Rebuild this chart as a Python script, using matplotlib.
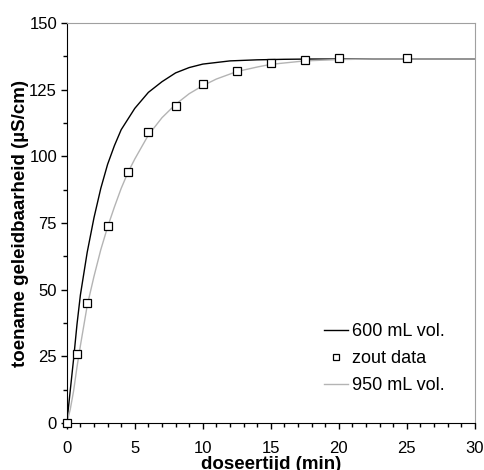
import matplotlib
matplotlib.use("Agg")
import matplotlib.pyplot as plt
from matplotlib.ticker import MultipleLocator

plt.rcParams["font.family"] = ["Liberation Sans", "DejaVu Sans"]

# measured salt data
t_data = [0, 0.75, 1.5, 3, 4.5, 6, 8, 10, 12.5, 15, 17.5, 20, 25]
g_data = [0, 26, 45, 74, 94, 109, 119, 127, 132, 135, 136, 137, 137]

# model curve, 600 mL volume
t_600 = [0, 0.25, 0.5, 0.75, 1, 1.5, 2, 2.5, 3, 3.5, 4, 5, 6, 7, 8, 9, 10, 12, 14, 16, 18, 20, 25, 30]
g_600 = [0, 12, 24, 37, 48, 64, 77, 88, 97, 104, 110, 118, 124, 128, 131.3, 133.3, 134.6, 135.8, 136.2, 136.4, 136.5, 136.5, 136.5, 136.5]

# model curve, 950 mL volume
t_950 = [0, 0.25, 0.5, 0.75, 1, 1.5, 2, 2.5, 3, 3.5, 4, 4.5, 5, 6, 7, 8, 9, 10, 11, 12.5, 14, 15, 17.5, 20, 22.5, 25, 30]
g_950 = [0, 5, 12, 21, 29, 44, 55, 65, 73.5, 81, 88, 94, 99, 108, 114.5, 119.5, 123.5, 126.5, 129, 131.8, 133.5, 134.5, 135.8, 136.3, 136.5, 136.5, 136.5]

fig = plt.figure(figsize=(4.84, 4.70), dpi=100)
ax = fig.add_axes([0.138, 0.1, 0.843, 0.851])

ax.plot(t_600, g_600, color="black", linewidth=1.0, label="600 mL vol.")
ax.plot(t_data, g_data, linestyle="none", marker="s", markersize=6,
        markerfacecolor="white", markeredgecolor="black", markeredgewidth=0.9,
        clip_on=False, zorder=5, label="zout data")
ax.plot(t_950, g_950, color="#b4b4b4", linewidth=1.0, label="950 mL vol.")

ax.set_xlim(0, 30)
ax.set_ylim(0, 150)
ax.xaxis.set_major_locator(MultipleLocator(5))
ax.xaxis.set_minor_locator(MultipleLocator(1))
ax.yaxis.set_major_locator(MultipleLocator(25))
ax.yaxis.set_minor_locator(MultipleLocator(12.5))
ax.tick_params(axis="both", which="major", direction="out", length=4, width=1,
               labelsize=12, colors="black")
ax.tick_params(axis="x", which="major", pad=9)
ax.tick_params(axis="y", which="major", pad=3)
ax.tick_params(axis="both", which="minor", direction="out", length=3, width=1)

for side in ["top", "right"]:
    ax.spines[side].set_color("#a0a0a0")
for side in ["left", "bottom"]:
    ax.spines[side].set_color("black")

ax.set_xlabel("doseertijd (min)", fontsize=13.5, fontweight="bold", labelpad=0)
ax.set_ylabel("toename geleidbaarheid (µS/cm)", fontsize=13.5, fontweight="bold", labelpad=0)

leg = ax.legend(loc="upper right", bbox_to_anchor=(0.965, 0.29), frameon=False,
                fontsize=13, handlelength=1.3, handletextpad=0.2, labelspacing=0.55,
                markerscale=0.8)

plt.savefig("out.png", dpi=100)
plt.close()
